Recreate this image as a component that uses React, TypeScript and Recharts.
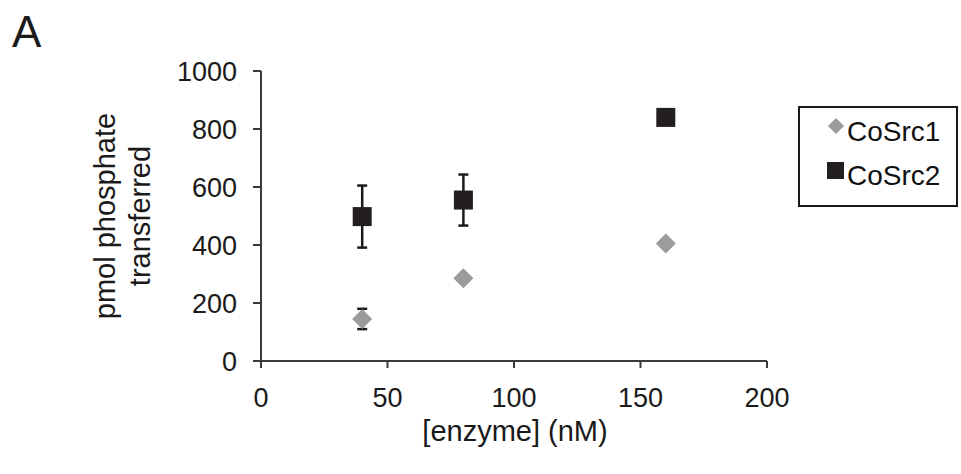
import React from 'react';
import { ScatterChart, Scatter, XAxis, YAxis, ErrorBar, Legend } from 'recharts';

const FONT = '"Liberation Sans", Arial, Helvetica, sans-serif';

const xTicks = [0, 50, 100, 150, 200];
const yTicks = [0, 200, 400, 600, 800, 1000];
const enzymeNM = [40, 80, 160];
const coSrc1Values = [145, 285, 405];
const coSrc1Errors = [35, 0, 0];
const coSrc2Values = [498, 555, 840];
const coSrc2Errors = [107, 88, 0];
const seriesNames = ['CoSrc1', 'CoSrc2'];
const xTitle = '[enzyme] (nM)';
const yTitleLines = ['pmol phosphate', 'transferred'];
const panelLabel = 'A';

const coSrc1Data = enzymeNM.map((x, i) => ({ x, y: coSrc1Values[i], err: coSrc1Errors[i] }));
const coSrc2Data = enzymeNM.map((x, i) => ({ x, y: coSrc2Values[i], err: coSrc2Errors[i] }));

const GREY = '#9b9b9b';
const DARK = '#231f20';

const Diamond = (props: any) => {
  const { cx, cy } = props;
  if (cx == null || cy == null) return null;
  const r = 10;
  return (
    <polygon
      points={`${cx},${cy - r} ${cx + r},${cy} ${cx},${cy + r} ${cx - r},${cy}`}
      fill={GREY}
    />
  );
};

const Square = (props: any) => {
  const { cx, cy } = props;
  if (cx == null || cy == null) return null;
  const h = 9.5;
  return <rect x={cx - h} y={cy - h} width={2 * h} height={2 * h} fill={DARK} />;
};

const YTitle = () => (
  <g fontFamily={FONT} fontSize={29} fill="#1a1a1a">
    <text x={115} y={216} textAnchor="middle" transform="rotate(-90 115 216)">
      {yTitleLines[0]}
    </text>
    <text x={150} y={216} textAnchor="middle" transform="rotate(-90 150 216)">
      {yTitleLines[1]}
    </text>
  </g>
);

const XTitle = () => (
  <g fontFamily={FONT} fill="#1a1a1a">
    <text x={515} y={441} textAnchor="middle" fontSize={29}>
      {xTitle}
    </text>
    <text x={12} y={47} fontSize={44}>
      {panelLabel}
    </text>
  </g>
);

const LegendBox = (props: any) => {
  const payload = props.payload || [];
  const n1 = payload[0]?.value ?? seriesNames[0];
  const n2 = payload[1]?.value ?? seriesNames[1];
  return (
    <svg width={156} height={97} style={{ display: 'block' }}>
      <g fontFamily={FONT} fontSize={28} fill="#111">
        <polygon points="36,10 44,18 36,26 28,18" fill={GREY} />
        <text x={47} y={33}>{n1}</text>
        <rect x={27} y={54} width={17} height={17} fill={DARK} />
        <text x={47} y={77}>{n2}</text>
      </g>
    </svg>
  );
};

export default function App() {
  return (
    <div style={{ position: 'absolute', left: 0, top: 0, width: 961, height: 474, background: '#fff' }}>
      <ScatterChart
        width={961}
        height={474}
        margin={{ top: 71, right: 194, bottom: 0, left: 181 }}
        style={{ fontFamily: FONT }}
      >
        <XAxis
          type="number"
          dataKey="x"
          domain={[0, 200]}
          ticks={xTicks}
          height={113}
          tickSize={7}
          tickMargin={20}
          axisLine={{ stroke: '#3a3a3a', strokeWidth: 2 }}
          tickLine={{ stroke: '#3a3a3a', strokeWidth: 2 }}
          tick={{ fontSize: 27, fill: '#1a1a1a', fontFamily: FONT }}
          label={XTitle}
          allowDataOverflow
        />
        <YAxis
          type="number"
          dataKey="y"
          domain={[0, 1000]}
          ticks={yTicks}
          width={80}
          tickSize={8}
          tickMargin={16}
          axisLine={{ stroke: '#3a3a3a', strokeWidth: 2 }}
          tickLine={{ stroke: '#3a3a3a', strokeWidth: 2 }}
          tick={{ fontSize: 27, fill: '#1a1a1a', fontFamily: FONT }}
          label={YTitle}
          allowDataOverflow
        />
        <Legend
          layout="vertical"
          align="center"
          verticalAlign="middle"
          content={LegendBox}
          wrapperStyle={{
            position: 'absolute',
            left: 798,
            top: 106,
            width: 160,
            height: 101,
            border: '2px solid #1a1a1a',
            boxSizing: 'border-box',
            background: '#fff',
          }}
        />
        <Scatter name={seriesNames[0]} data={coSrc1Data} fill={GREY} shape={Diamond} isAnimationActive={false}>
          <ErrorBar dataKey="err" direction="y" width={5} stroke="#1a1a1a" strokeWidth={2.5} />
        </Scatter>
        <Scatter name={seriesNames[1]} data={coSrc2Data} fill={DARK} shape={Square} isAnimationActive={false}>
          <ErrorBar dataKey="err" direction="y" width={5} stroke="#1a1a1a" strokeWidth={2.5} />
        </Scatter>
      </ScatterChart>
    </div>
  );
}
